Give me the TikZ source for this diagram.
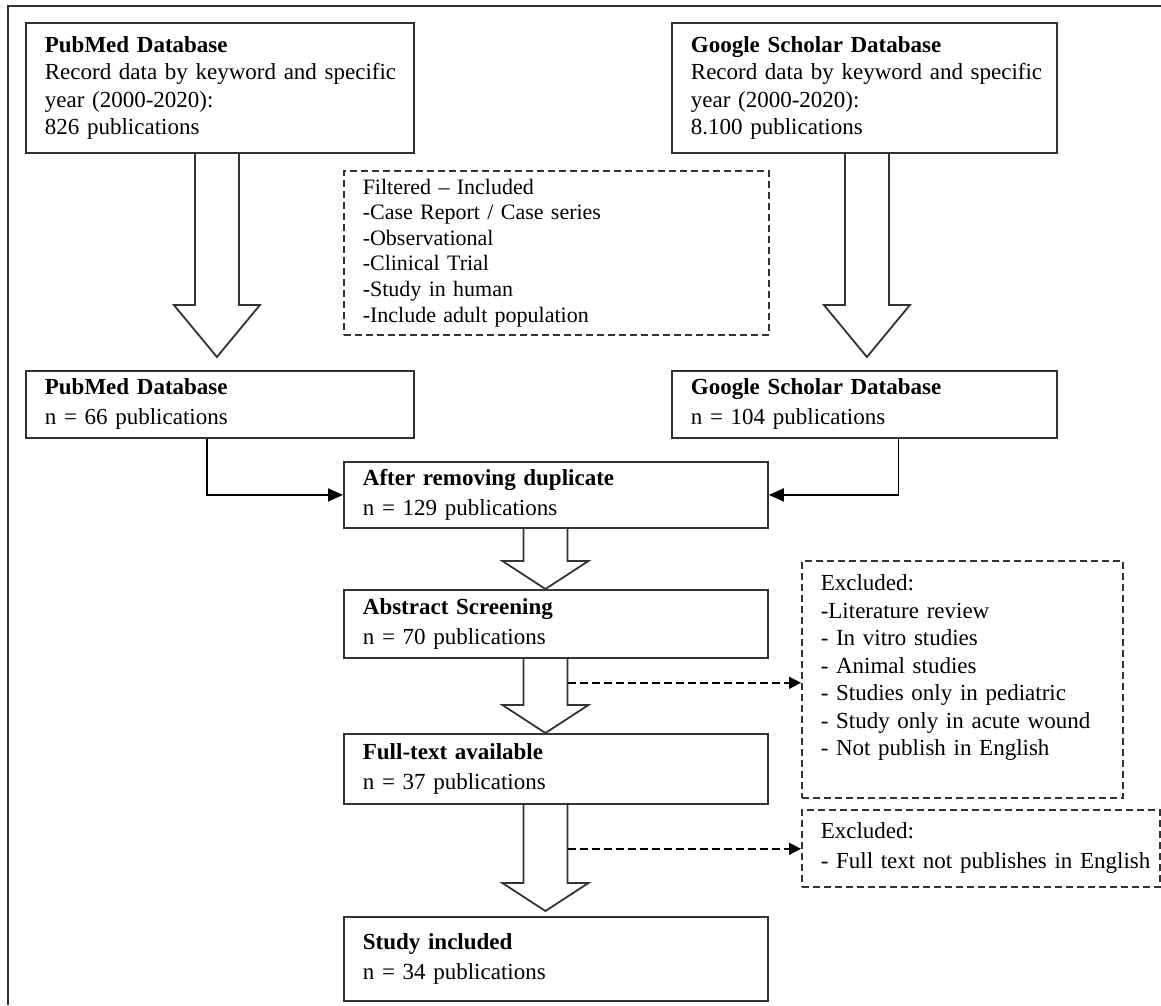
\documentclass[tikz,border=0pt]{standalone}
\usepackage{fontspec}
\setmainfont{Liberation Serif}
\usepackage{tikz}
\usepackage{xcolor}
\usetikzlibrary{
  positioning, arrows.meta, calc,
}
\definecolor{lineGray}{HTML}{333333}

% hollow block arrow: from, to, x shift, gap above target, head length
\newcommand{\fatarrow}[5]{%
  \draw[fatline] ($(#1.south)+(#3-22,0)$) -- ($(#2.north)+(#3-22,-#4-#5)$)
    -- ($(#2.north)+(#3-43,-#4-#5)$) -- ($(#2.north)+(#3,-#4)$)
    -- ($(#2.north)+(#3+43,-#4-#5)$) -- ($(#2.north)+(#3+22,-#4-#5)$)
    -- ($(#1.south)+(#3+22,0)$);}

\begin{document}
\begin{tikzpicture}[x=1pt, y=-1pt,
    box/.style={draw=lineGray, line width=1.8pt, anchor=north west, align=left,
      inner xsep=19pt, inner ysep=0pt, font=\fontsize{23}{30}\selectfont},
    dashbox/.style={box, line width=1.5pt, dash pattern=on 7pt off 4pt,
      font=\fontsize{23}{27.5}\selectfont},
    fatline/.style={draw=lineGray, line width=1.8pt, line join=miter},
    link/.style={draw=black, line width=1.5pt, -{Triangle[length=15pt,width=13pt]}},
    dashlink/.style={link, dash pattern=on 8pt off 4pt, -{Triangle[length=12pt,width=12pt]}}]
  \useasboundingbox (0,0) rectangle (1161,1005);
  \draw[lineGray, line width=1.8pt] (8,1005) -- (8,6) -- (1161,6);

  % sources
  \node[box, text width=350pt, minimum height=130pt, font=\fontsize{23}{27.5}\selectfont] (pubA) at (25,22)
    {\textbf{PubMed Database}\\\mbox{Record data by keyword and specific}\\year (2000-2020):\\826 publications};
  \node[box, text width=347pt, minimum height=130pt, font=\fontsize{23}{27.5}\selectfont] (gsA) at (671,22)
    {\textbf{Google Scholar Database}\\\mbox{Record data by keyword and specific}\\year (2000-2020):\\8.100 publications};
  \node[dashbox, text width=387pt, minimum height=164pt, font=\fontsize{22}{25.6}\selectfont] (filt) at (343,170)
    {Filtered -- Included\\-Case Report / Case series\\-Observational\\-Clinical Trial\\-Study in human\\-Include adult population};
  \node[box, text width=350pt, minimum height=67pt] (pubB) at (25,370)
    {\textbf{PubMed Database}\\n = 66 publications};
  \node[box, text width=347pt, minimum height=67pt] (gsB) at (671,370)
    {\textbf{Google Scholar Database}\\n = 104 publications};

  % main column
  \node[box, text width=386pt, minimum height=66pt] (dup) at (343,461)
    {\textbf{After removing duplicate}\\n = 129 publications};
  \node[box, text width=386pt, minimum height=68pt] (abs) at (343,589)
    {\textbf{Abstract Screening}\\n = 70 publications};
  \node[box, text width=386pt, minimum height=70pt] (full) at (343,733)
    {\textbf{Full-text available}\\n = 37 publications};
  \node[box, text width=386pt, minimum height=84pt] (study) at (343,916)
    {\textbf{Study included}\\n = 34 publications};

  % exclusions
  \node[dashbox, text width=283pt, minimum height=237pt] (exc1) at (801,560)
    {Excluded:\\-Literature review\\- In vitro studies\\- Animal studies\\- Studies only in pediatric\\- Study only in acute wound\\- Not publish in English\\\mbox{}};
  \node[dashbox, text width=320pt, minimum height=77pt, font=\fontsize{23}{30}\selectfont] (exc2) at (801,809)
    {Excluded:\\\mbox{- Full text not publishes in English}};

  \fatarrow{pubA}{pubB}{-3}{13}{52}
  \fatarrow{gsA}{gsB}{2.5}{13}{52}
  \fatarrow{dup}{abs}{-10.5}{0}{28}
  \fatarrow{abs}{full}{-10.5}{0}{28}
  \fatarrow{full}{study}{-10.5}{5}{28}

  \draw[link] ($(pubB.south)+(-13,0)$) |- (dup.west);
  \draw[link] ($(gsB.south)+(34,0)$) |- (dup.east);

  \coordinate (cut1) at ($(abs.south)+(12,24)$);
  \coordinate (cut2) at ($(full.south)+(12,44)$);
  \draw[dashlink] (cut1) -- (cut1 -| exc1.west);
  \draw[dashlink] (cut2) -- (cut2 -| exc2.west);
\end{tikzpicture}
\end{document}
